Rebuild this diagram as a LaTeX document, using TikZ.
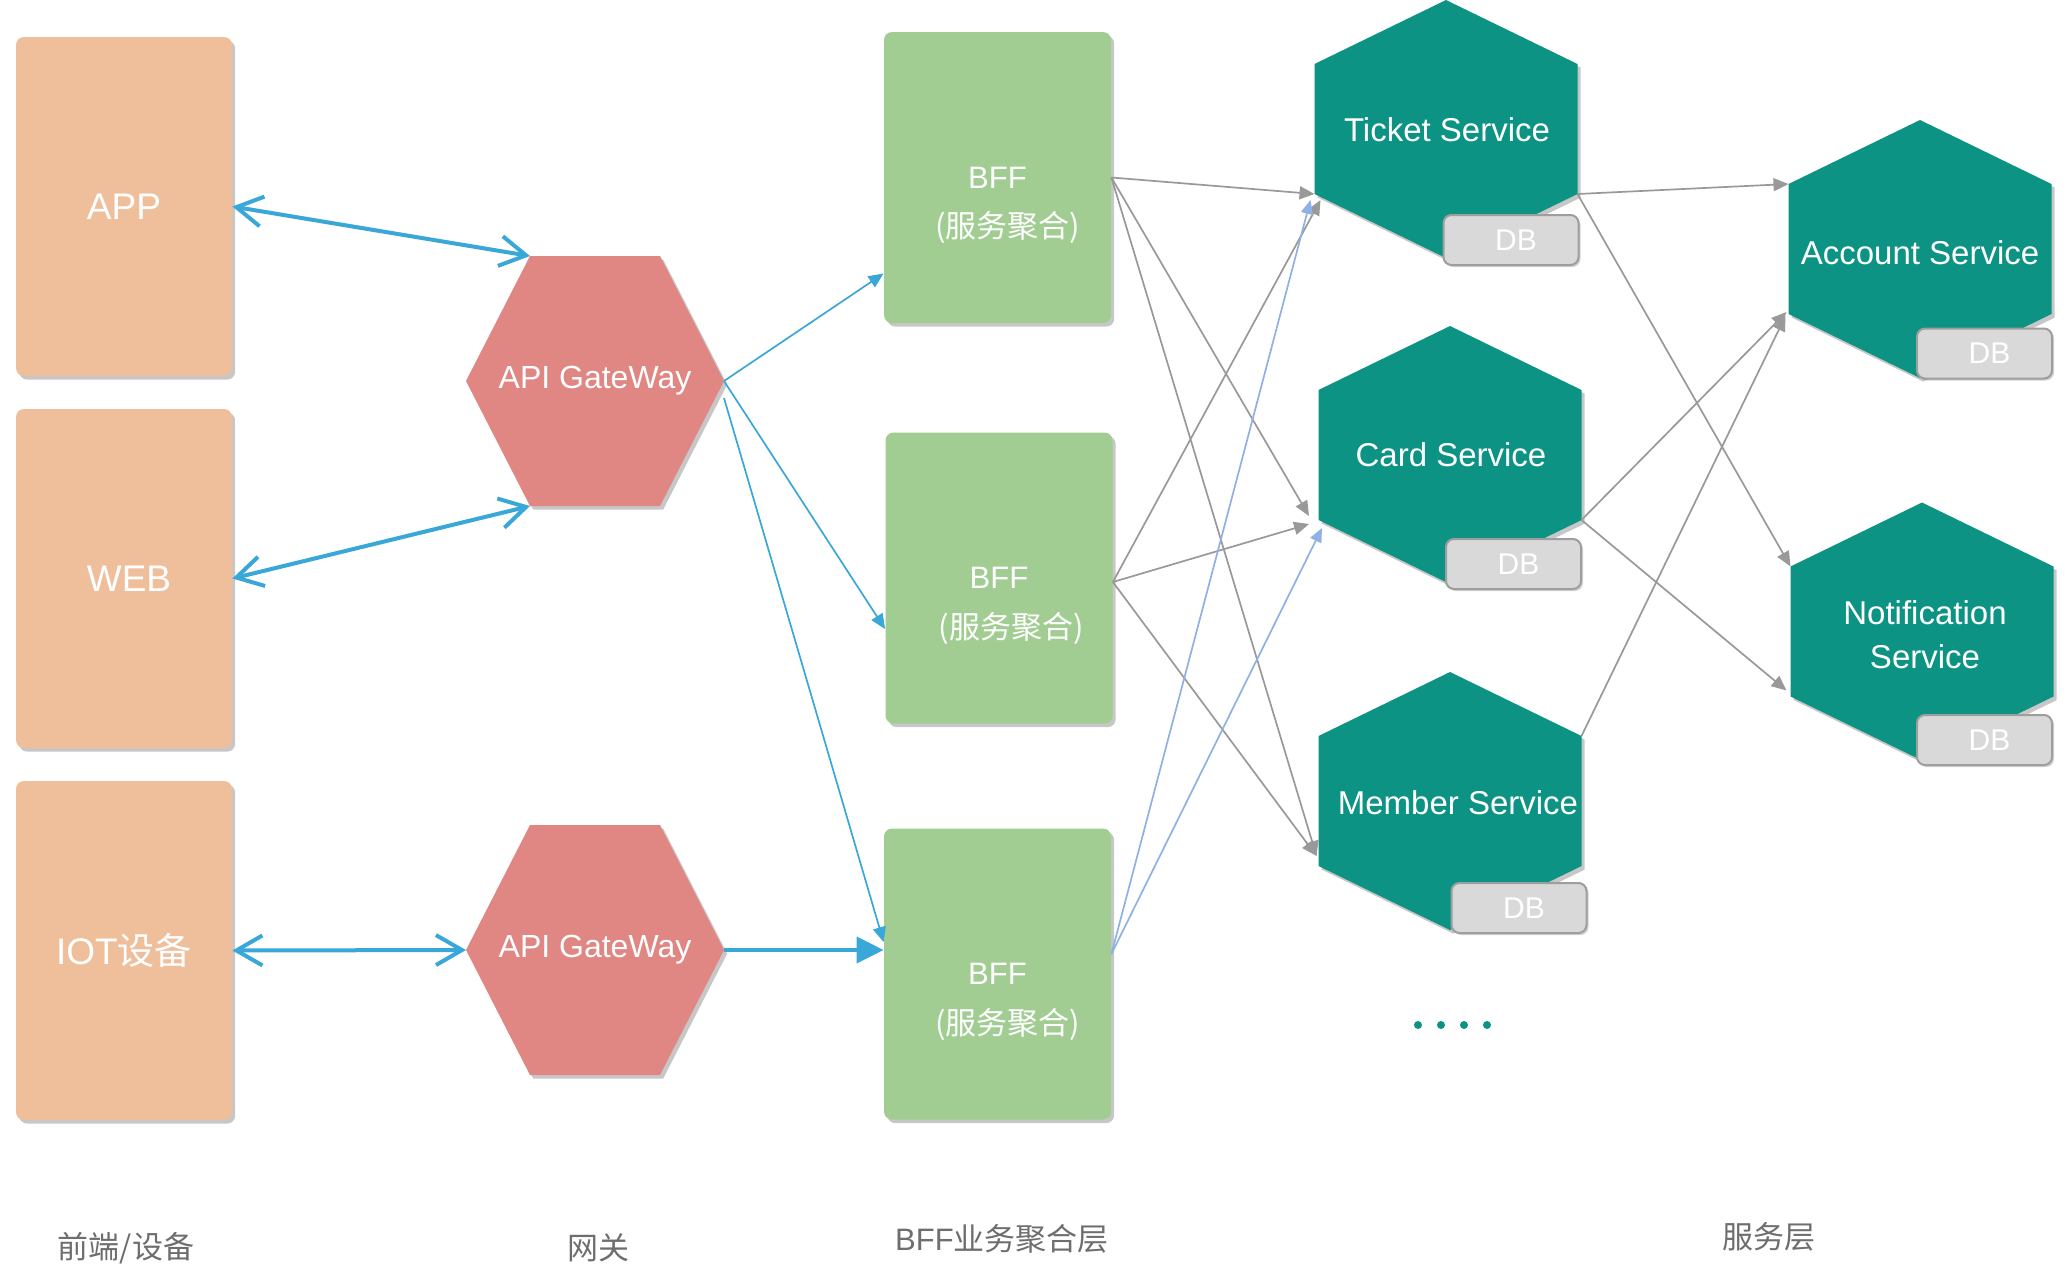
\documentclass[tikz,border=0pt]{standalone}
\usepackage{fontspec}
\setmainfont{Liberation Sans}
\newfontfamily\cjk{Noto Sans CJK SC}
\usetikzlibrary{arrows.meta,shadows,calc}
\definecolor{peach}{HTML}{EFBF9C}
\definecolor{pinkgw}{HTML}{E08683}
\definecolor{bffgreen}{HTML}{A1CD93}
\definecolor{svcteal}{HTML}{0C9383}
\definecolor{dbgray}{HTML}{D9D9D9}
\definecolor{dbborder}{HTML}{9E9E9E}
\definecolor{arrblue}{HTML}{3AA7D9}
\definecolor{lightblue}{HTML}{8FB1E5}
\definecolor{linegray}{HTML}{999999}
\definecolor{labelgray}{HTML}{6E6E6E}
\tikzset{
  myshadow/.style={drop shadow={shadow xshift=1.6pt, shadow yshift=-1.8pt, opacity=0.22, fill=black}},
  devbox/.style={fill=peach, rounded corners=4pt, minimum width=108pt, minimum height=169.5pt,
    inner sep=0pt, text=white, font=\fontsize{18.5}{22}\selectfont, myshadow},
  bffbox/.style={fill=bffgreen, rounded corners=4pt, minimum width=113.5pt, minimum height=145.5pt,
    inner sep=0pt, myshadow},
  bfftext/.style={text=white, inner sep=0pt, font=\fontsize{15.5}{19}\selectfont},
  gwfill/.style={fill=pinkgw, myshadow},
  gwtext/.style={text=white, inner sep=0pt, font=\fontsize{16}{19}\selectfont},
  svcfill/.style={fill=svcteal, myshadow},
  svctext/.style={text=white, inner sep=0pt, align=center, font=\fontsize{16.5}{22}\selectfont},
  dbbox/.style={fill=dbgray, draw=dbborder, line width=1pt, rounded corners=4pt,
    minimum width=67.5pt, minimum height=25pt, inner sep=0pt, text=white,
    font=\fontsize{15}{18}\selectfont, drop shadow={shadow xshift=1pt, shadow yshift=-1pt, opacity=0.18, fill=black}},
  layerlabel/.style={text=labelgray, inner sep=0pt, font=\fontsize{15.5}{19}\selectfont},
  bluethick/.style={draw=arrblue, line width=2pt},
  barbs/.style={{Straight Barb[length=13pt,width=15pt]}-{Straight Barb[length=13pt,width=15pt]}},
  bluethin/.style={draw=arrblue, line width=0.85pt, -{Triangle[length=7.5pt,width=6.5pt]}},
  bluebig/.style={draw=arrblue, line width=2pt, -{Triangle[length=13.5pt,width=13pt]}},
  lblue/.style={draw=lightblue, line width=0.85pt, -{Triangle[length=7pt,width=6pt]}},
  grayarr/.style={draw=linegray, line width=0.85pt, -{Triangle[length=7.5pt,width=6.5pt]}},
}
\newcommand\gwhex[3]{%
  \coordinate (#1-tl) at (#2-65,#3-125);
  \coordinate (#1-tr) at (#2+65,#3-125);
  \coordinate (#1-r) at (#2+129,#3);
  \coordinate (#1-br) at (#2+65,#3+125);
  \coordinate (#1-bl) at (#2-65,#3+125);
  \coordinate (#1-l) at (#2-129,#3);
  \path[gwfill] (#1-tl) -- (#1-tr) -- (#1-r) -- (#1-br) -- (#1-bl) -- (#1-l) -- cycle;
  \node[gwtext] (#1) at (#2,#3) {API GateWay};}
\newcommand\svchex[3]{%
  \coordinate (#1-t) at (#2,#3-129);
  \coordinate (#1-tr) at (#2+131.5,#3-65);
  \coordinate (#1-br) at (#2+131.5,#3+65);
  \coordinate (#1-b) at (#2,#3+129);
  \coordinate (#1-bl) at (#2-131.5,#3+65);
  \coordinate (#1-tl) at (#2-131.5,#3-65);
  \path[svcfill] (#1-t) -- (#1-tr) -- (#1-br) -- (#1-b) -- (#1-bl) -- (#1-tl) -- cycle;}
\begin{document}
\begin{tikzpicture}[x=0.5pt,y=-0.5pt]
\useasboundingbox[fill=white] (0,0) rectangle (2068,1286);

% front-end boxes
\node[devbox] (app) at (124,206.5) {APP};
\node[devbox] (web) at (124,578.5) {\hspace*{5pt}WEB};
\node[devbox] (iot) at (124,950.5) {IOT{\cjk 设备}};

% gateways
\gwhex{gw1}{595}{381}
\gwhex{gw2}{595}{950}

% BFF boxes
\node[bffbox] (bff1) at (997.5,177.5) {};
\node[bffbox] (bff2) at (999,578) {};
\node[bffbox] (bff3) at (997.5,974) {};
\node[bfftext] (bff1a) at (bff1.center) {BFF};
\node[bfftext] (bff1b) at ([xshift=5pt,yshift=-25pt]bff1.center) {\cjk (服务聚合)};
\node[bfftext] (bff2a) at (bff2.center) {BFF};
\node[bfftext] (bff2b) at ([xshift=6pt,yshift=-25pt]bff2.center) {\cjk (服务聚合)};
\node[bfftext] (bff3a) at (bff3.center) {BFF};
\node[bfftext] (bff3b) at ([xshift=5pt,yshift=-25pt]bff3.center) {\cjk (服务聚合)};

% services
\svchex{ticket}{1446}{129}
\svchex{card}{1450}{455}
\svchex{member}{1450}{801}
\svchex{account}{1920}{249}
\svchex{notif}{1922}{631.5}
\node[svctext] (tickett) at (1447,130) {Ticket Service};
\node[svctext] (cardt) at (1451,455) {Card Service};
\node[svctext] (membert) at (1458,803) {Member Service};
\node[svctext] (accountt) at (1920,253) {Account Service};
\node[svctext] (notift) at (1925,635) {Notification\\Service};

% DB boxes
\node[dbbox] (ticketdb) at (1511,240) {\hspace*{5pt}DB};
\node[dbbox] (carddb) at (1513.5,564) {\hspace*{5pt}DB};
\node[dbbox] (memberdb) at (1519,908) {\hspace*{5pt}DB};
\node[dbbox] (accountdb) at (1984.5,353.5) {\hspace*{5pt}DB};
\node[dbbox] (notifdb) at (1984.5,740) {\hspace*{5pt}DB};

% dots
\foreach \dx in {1418,1441,1464,1487} \fill[svcteal] (\dx,1025) circle (2pt);

% layer labels
\node[layerlabel] (lab1) at (126,1248) {\cjk 前端/设备};
\node[layerlabel] (lab2) at (598,1248) {\cjk 网关};
\node[layerlabel] (lab3) at (1002,1239) {BFF{\cjk 业务聚合层}};
\node[layerlabel] (lab4) at (1769,1237) {\cjk 服务层};

% front-end <-> gateway
\draw[bluethick, barbs] (app.east) -- (gw1-tl);
\draw[bluethick, barbs] (web.east) -- (gw1-bl);
\draw[bluethick, barbs] (iot.east) -- (gw2-l);

% gateway -> BFF
\draw[bluethin] (gw1-r) -- ([yshift=-48pt]bff1.west);
\draw[bluethin] (gw1-r) -- ([yshift=-25.5pt]bff2.west);
\draw[bluethin] ([yshift=-8.5pt]gw1-r) -- ([yshift=16pt]bff3.west);
\draw[bluebig] (gw2-r) -- (gw2-r -| bff3.west);

% BFF -> services
\draw[grayarr] (bff1.east) -- (ticket-bl);
\draw[grayarr] (bff1.east) -- ($(card-bl)+(-9.5,-4)$);
\draw[grayarr] (bff1.east) -- ($(member-bl)+(-2,-10)$);
\draw[grayarr] ([yshift=-2pt]bff2.east) -- ($(ticket-bl)+(6,6)$);
\draw[grayarr] ([yshift=-2pt]bff2.east) -- ($(card-bl)+(-9.5,4)$);
\draw[grayarr] ([yshift=-2pt]bff2.east) -- ($(member-bl)+(-2,-10)$);
\draw[lblue] ([yshift=10pt]bff3.east) -- ($(ticket-bl)+(-4,6)$);
\draw[lblue] ([yshift=10pt]bff3.east) -- ($(card-bl)+(3.5,8)$);

% service -> service
\draw[grayarr] (ticket-br) -- (account-tl);
\draw[grayarr] (ticket-br) -- (notif-tl);
\draw[grayarr] (card-br) -- ($(account-bl)+(-2,-2)$);
\draw[grayarr] (card-br) -- ($(notif-bl)+(-4,-6)$);
\draw[grayarr] (member-tr) -- ($(account-bl)+(-3,2)$);
\end{tikzpicture}
\end{document}
